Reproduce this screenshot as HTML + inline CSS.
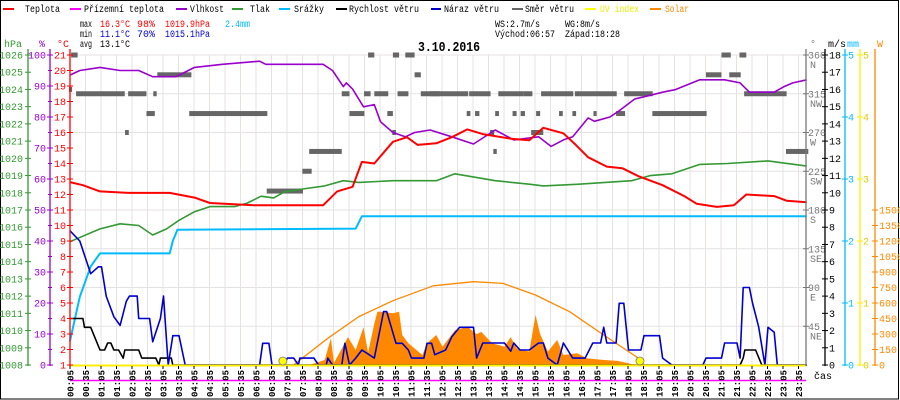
<!DOCTYPE html>
<html><head><meta charset="utf-8">
<style>
html,body{margin:0;padding:0;background:#fff;}
svg{display:block;}
text{font-family:"Liberation Mono","DejaVu Sans Mono",monospace;}
</style></head>
<body>
<svg id="chart" width="900" height="400" viewBox="0 0 900 400" xmlns="http://www.w3.org/2000/svg">
<rect x="0.5" y="0.5" width="898" height="398.5" fill="#fff" stroke="#000" stroke-width="1"/>
<g id="legend" font-size="10" lengthAdjust="spacingAndGlyphs">
 <g><rect x="3" y="8" width="11" height="2" fill="#f00"/><text x="25" y="12" textLength="35" lengthAdjust="spacingAndGlyphs">Teplota</text></g>
 <g><rect x="70" y="8" width="11" height="2" fill="#f0f"/><text x="84" y="12" textLength="80" lengthAdjust="spacingAndGlyphs">Přízemní teplota</text></g>
 <g><rect x="176" y="8" width="11" height="2" fill="#90c"/><text x="190" y="12" textLength="34" lengthAdjust="spacingAndGlyphs">Vlhkost</text></g>
 <g><rect x="232" y="8" width="11" height="2" fill="#393"/><text x="250" y="12" textLength="20" lengthAdjust="spacingAndGlyphs">Tlak</text></g>
 <g><rect x="279" y="8" width="11" height="2" fill="#0bf"/><text x="294" y="12" textLength="30" lengthAdjust="spacingAndGlyphs">Srážky</text></g>
 <g><rect x="336" y="8" width="11" height="2" fill="#000"/><text x="349" y="12" textLength="70" lengthAdjust="spacingAndGlyphs">Rychlost větru</text></g>
 <g><rect x="431" y="8" width="10" height="2" fill="#00c"/><text x="444" y="12" textLength="55" lengthAdjust="spacingAndGlyphs">Náraz větru</text></g>
 <g><rect x="512" y="8" width="11" height="2" fill="#666"/><text x="525" y="12" textLength="49" lengthAdjust="spacingAndGlyphs">Směr větru</text></g>
 <g><rect x="585" y="8" width="11" height="2" fill="#ff0"/><text x="600" y="12" fill="#ee0" textLength="39" lengthAdjust="spacingAndGlyphs">UV index</text></g>
 <g><rect x="650" y="8" width="11" height="2" fill="#f80"/><text x="665" y="12" fill="#f80" textLength="24" lengthAdjust="spacingAndGlyphs">Solar</text></g>
</g>
<g font-size="10">
 <text x="80" y="27" textLength="12" lengthAdjust="spacingAndGlyphs">max</text>
 <text x="100" y="27" fill="#f00" textLength="30" lengthAdjust="spacingAndGlyphs">16.3°C</text>
 <text x="137" y="27" fill="#f00" textLength="18" lengthAdjust="spacingAndGlyphs">98%</text>
 <text x="165" y="27" fill="#f00" textLength="45" lengthAdjust="spacingAndGlyphs">1019.9hPa</text>
 <text x="225" y="27" fill="#0bf" textLength="25" lengthAdjust="spacingAndGlyphs">2.4mm</text>
 <text x="80" y="37" textLength="12" lengthAdjust="spacingAndGlyphs">min</text>
 <text x="100" y="37" fill="#00c" textLength="30" lengthAdjust="spacingAndGlyphs">11.1°C</text>
 <text x="137" y="37" fill="#00c" textLength="18" lengthAdjust="spacingAndGlyphs">70%</text>
 <text x="165" y="37" fill="#00c" textLength="45" lengthAdjust="spacingAndGlyphs">1015.1hPa</text>
 <text x="80" y="47" textLength="12" lengthAdjust="spacingAndGlyphs">avg</text>
 <text x="100" y="47" textLength="30" lengthAdjust="spacingAndGlyphs">13.1°C</text>
 <text x="495" y="27" textLength="45" lengthAdjust="spacingAndGlyphs">WS:2.7m/s</text>
 <text x="565" y="27" textLength="35" lengthAdjust="spacingAndGlyphs">WG:8m/s</text>
 <text x="495" y="37" textLength="60" lengthAdjust="spacingAndGlyphs">Východ:06:57</text>
 <text x="565" y="37" textLength="55" lengthAdjust="spacingAndGlyphs">Západ:18:28</text>
</g>
<text x="418" y="51" font-size="14" font-weight="bold" textLength="62" lengthAdjust="spacingAndGlyphs">3.10.2016</text>
<g id="grid"></g>
<g id="series"></g>
<g id="axes"></g>
</svg>
<script>
// ---- data ----
const timeLabels = [];
for (let k = 0; k < 48; k++) { const m = 5 + 30 * k; timeLabels.push(String(Math.floor(m/60)).padStart(2,'0') + ':' + String(m%60).padStart(2,'0')); }
const tempT = [0.08,0.5,1.05,2,3.3,4.1,4.6,6,7,8.25,8.7,9.2,9.5,9.9,10.5,10.95,11.3,11.9,12.4,12.9,13.4,14.3,14.9,15.35,16,16.4,16.8,17.4,17.9,18.4,19.2,19.9,20.3,20.95,21.5,21.9,22.8,23.2,23.85];
const tempV = [12.8,12.6,12.2,12.1,12.1,11.8,11.45,11.3,11.3,11.3,12.2,12.5,14.1,14.0,15.4,15.7,15.2,15.3,15.7,16.2,15.9,15.6,15.5,16.3,15.95,15.2,14.4,13.8,13.7,13.2,12.6,11.9,11.4,11.2,11.3,12.0,11.9,11.6,11.5];
const humT = [0.08,0.4,1.05,1.7,2.3,2.75,3.5,3.7,4.1,5,6.2,6.4,8.25,8.55,8.9,9,9.2,9.55,9.9,10.1,10.5,10.9,11.2,11.7,12.4,13.1,13.8,14.4,15.2,15.6,16,16.3,16.8,17,17.5,17.8,18.3,18.8,19.2,19.6,20.1,20.4,21.2,21.7,22,22.8,23.1,23.4,23.85];
const humV = [93.5,95,96,95,95,93,93,94,96,97,98,97,97,95,89.8,91,89,83.3,84,78.5,75,73.6,75,75.8,73.6,71.3,75.8,72.6,73.6,70.5,72.6,73.6,79.7,78.6,80,82,85.8,87,88,88.8,90.8,92,92,91,88,88,89.7,91,92];
const presT = [0.08,1.05,1.7,2.3,2.75,3.2,3.6,4.1,4.6,5.4,5.8,6.25,6.65,7,7.7,8.3,8.9,9.4,10.5,11.9,12.5,13.8,14.9,15.35,16.5,18.2,18.8,19.5,20.4,21.3,22.6,23.85];
const presV = [1015.16,1015.9,1016.2,1016.1,1015.55,1015.9,1016.4,1016.9,1017.2,1017.2,1017.4,1017.8,1017.7,1018.05,1018.25,1018.4,1018.7,1018.6,1018.7,1018.7,1019.1,1018.7,1018.5,1018.4,1018.5,1018.7,1019.0,1019.1,1019.65,1019.7,1019.85,1019.55];
const rainT = [0.08,0.4,0.75,1.05,3.3,3.4,3.55,9.3,9.4,9.5,23.85];
const rainV = [0.38,1.1,1.59,1.8,1.8,2.0,2.18,2.2,2.3,2.4,2.4];
const gustT = [0.08,0.4,0.75,1.0,1.1,1.25,1.5,1.7,1.9,2.0,2.25,2.3,2.65,2.75,3.0,3.1,3.25,3.4,3.6,3.8,6.2,6.3,6.5,6.6,6.95,7.1,7.3,7.45,7.5,7.95,8.1,8.35,8.4,8.55,8.85,8.95,9.1,9.3,9.5,9.9,10.2,10.3,10.6,10.8,11.0,11.1,11.5,11.6,11.75,11.85,12.2,12.4,12.65,13.1,13.2,13.4,14.1,14.3,14.4,14.6,14.9,15.2,15.35,15.5,15.8,16.0,16.3,16.7,16.95,17.2,17.3,17.4,17.7,17.8,17.95,18.1,18.5,18.6,19.1,19.2,19.5,20.5,20.6,21.1,21.2,21.6,21.7,21.8,22.0,22.1,22.3,22.5,22.6,22.8,22.9,23.85];
const gustV = [7.8,7.2,5.3,5.7,5.7,4.0,2.8,2.3,3.7,4.0,4.0,2.7,2.7,1.35,2.7,4.0,0.0,1.7,1.7,0,0,1.26,1.26,0,0,0.4,0.4,0,0.4,0.4,0,0,0.4,0,0,1.26,0,0.4,0.87,0.4,3.1,3.1,1.26,1.26,0.87,0.4,0.4,1.26,1.26,0.6,0.87,1.64,2.19,2.19,0.4,1.28,1.28,0.8,1.28,0.87,0.87,1.28,1.28,0.4,0,1.28,0.4,0.4,1.28,1.28,2.19,1.28,1.28,3.58,3.58,0.87,0.87,1.7,1.7,0.4,0,0,0.4,0.4,1.28,1.28,0.4,4.5,4.5,3.6,2.2,0,2.19,1.9,0,0];
const speedT = [0.08,0.5,0.55,0.75,1.05,1.2,1.3,1.4,1.5,1.65,1.8,1.85,2.3,2.4,2.85,2.95,3.0,3.35,3.4,21.7,21.8,21.85,22.2,22.4,23.85];
const speedV = [2.7,2.7,2.19,2.19,0.87,0.87,1.28,1.28,0.87,0.87,0.4,0.87,0.87,0.4,0.4,0,0.4,0.4,0,0,0.4,0.87,0.87,0,0];
const solarT = [7.8,8.3,8.5,8.6,9.05,9.3,9.55,9.7,9.9,10.0,10.15,10.5,10.7,10.8,11.0,11.2,11.45,11.6,11.9,12.1,12.5,12.9,13.2,13.35,13.7,14.1,14.3,14.5,14.9,15.1,15.25,15.5,15.8,16.0,16.45,16.75,17.3,17.75,18.2,18.4];
const solarV = [0,48,258,20,270,145,365,120,400,516,516,500,516,290,210,160,97,210,290,177,335,370,300,320,210,177,270,160,130,484,300,130,242,97,113,65,48,40,10,0];
const solarMaxT = [7.3,7.5,8.4,9.4,10.5,11.8,13.1,14.05,15.1,16.2,17.3,18.35,18.6];
const solarMaxV = [0,48,258,468,622,766,806,790,677,516,290,80,0];
const dirStart = [0.05,0.12,9.7,10.5,10.9,21.1,21.68,2.9,11.2,20.6,21.35,0.28,1.96,2.77,8.85,9.57,9.9,10.65,11.4,11.7,12.96,13.9,14.7,15.28,16.37,17.96,21.83,2.55,3.93,9.1,10.32,12.88,13.15,13.8,14.36,14.62,15.12,15.86,16.29,16.97,17.7,18.87,1.86,10.48,13.63,14.96,7.8,13.74,23.18,7.58,6.43];
const dirEnd   = [0.15,0.33,9.9,10.7,11.2,21.4,21.9,4.0,11.4,21.1,21.72,1.85,2.55,2.88,9.1,9.78,10.35,11.0,12.0,12.93,13.65,14.7,15.0,16.32,17.72,18.88,23.2,2.82,6.45,9.58,10.5,13.0,13.29,13.92,14.49,14.76,15.25,15.98,16.41,17.07,17.99,20.62,1.98,10.6,13.77,15.35,8.85,13.85,23.9,7.88,7.6];
const dirDeg   = [320,360,360,360,360,360,360,337,337,337,337,315,315,315,315,315,315,315,315,315,315,315,315,315,315,315,315,292,292,292,292,292,292,292,292,292,292,292,292,292,292,292,270,270,270,270,248,248,248,225,202];
const sunEventsT = [6.95, 18.47];
const hpaTicks = [1008,1009,1010,1011,1012,1013,1014,1015,1016,1017,1018,1019,1020,1021,1022,1023,1024,1025,1026];
const humTicks = [0,10,20,30,40,50,60,70,80,90,100];
const tempTicks = [1,2,3,4,5,6,7,8,9,10,11,12,13,14,15,16,17,18,19,20,21];
const dirTicks = [45,90,135,180,225,270,315,360];
const dirNames = ['NE','E','SE','S','SW','W','NW','N'];
const windTicks = [0,1,2,3,4,5,6,7,8,9,10,11,12,13,14,15,16,17,18];
const mmTicks = [0,1,2,3,4,5];
const solarTicks = [0,150,300,450,600,750,900,1050,1200,1350,1500];

// ---- scales ----
const X = h => 67.4 + 31 * h;
const B = 365, SPAN = 310;
const yT = c => B - (c - 1) * SPAN / 20;
const yH = p => B - p * SPAN / 100;
const yP = v => B - (v - 1008) * SPAN / 18;
const yR = m => B - m * SPAN / 5;
const yW = w => B - w * SPAN / 18;
const yD = d => B - d * SPAN / 360;
const yS = w => B - w * 155 / 1500;

const NS = 'http://www.w3.org/2000/svg';
function mk(tag, attrs, parent) { const e = document.createElementNS(NS, tag); for (const k in attrs) e.setAttribute(k, attrs[k]); parent.appendChild(e); return e; }
const grid = document.getElementById('grid'), series = document.getElementById('series'), axes = document.getElementById('axes');

for (let k = 0; k < 48; k++) {
  const gx = 70 + 15.5 * k;
  const l = mk('line', {x1: gx, y1: 55, x2: gx, y2: B, stroke: '#e6e2e2', 'stroke-width': 1}, grid);
  
  
}
dirTicks.forEach(d => {
  const l = mk('line', {x1: 70, y1: yD(d), x2: 806, y2: yD(d), stroke: '#e6e2e2', 'stroke-width': 1}, grid);
  
  
});

function poly(ts, vs, yf, color, w, name) {
  const pts = ts.map((t, i) => X(t).toFixed(1) + ',' + yf(vs[i]).toFixed(1)).join(' ');
  const p = mk('polyline', {points: pts, fill: 'none', stroke: color, 'stroke-width': w, 'stroke-linejoin': 'round'}, series);
  
  
  return p;
}

{
  const pts = solarT.map((t, i) => X(t).toFixed(1) + ',' + yS(solarV[i]).toFixed(1));
  pts.unshift(X(solarT[0]).toFixed(1) + ',' + B);
  pts.push(X(solarT[solarT.length - 1]).toFixed(1) + ',' + B);
  const a = mk('polygon', {points: pts.join(' '), fill: '#ff8800'}, series);
  
  
}
poly(solarMaxT, solarMaxV, yS, '#ff8800', 1.3, 'solar-theoretical-line');

dirDeg.forEach((d, i) => {
  const r = mk('rect', {x: X(dirStart[i]), y: yD(d) - 2.5, width: Math.max(3, X(dirEnd[i]) - X(dirStart[i])), height: 5, fill: '#666'}, series);
  
  
});

poly(presT, presV, yP, '#339933', 1.6, 'pressure-line');
poly(rainT, rainV, yR, '#00bbff', 2, 'rain-line');
poly(humT, humV, yH, '#9900cc', 1.6, 'humidity-line');
poly(tempT, tempV, yT, '#ff0000', 2, 'temperature-line');
poly(speedT, speedV, yW, '#000', 1.6, 'wind-speed-line');
poly(gustT, gustV, yW, '#0000cc', 1.6, 'wind-gust-line');

{
  const u = mk('line', {x1: 70, y1: B + 0.5, x2: 806, y2: B + 0.5, stroke: '#ffee00', 'stroke-width': 2}, series);
  
  
  const g = mk('line', {x1: 70, y1: 380.5, x2: 806, y2: 380.5, stroke: '#ff00ff', 'stroke-width': 1.5}, series);
  
  
}
sunEventsT.forEach(t => {
  const c = mk('circle', {cx: X(t), cy: 361, r: 4, fill: '#ffff00', stroke: '#777', 'stroke-width': 0.8}, series);
  
  
});

function vaxis(x, color, name) {
  const l = mk('line', {x1: x, y1: 49, x2: x, y2: B + 1, stroke: color, 'stroke-width': 1.3}, axes);
  
  
}
function lab(x, y, s, color, anchor, name) {
  const t = mk('text', {x: x, y: y, fill: color, 'font-size': 10, 'text-anchor': anchor}, axes);
  t.textContent = s;
  
  
}
function tick(x1, x2, y, color) { mk('line', {x1: x1, y1: y, x2: x2, y2: y, stroke: color, 'stroke-width': 1}, axes); }

vaxis(28, '#339933', 'pressure-axis');
hpaTicks.forEach(v => { tick(25, 31, yP(v), '#339933'); lab(23, yP(v) + 3.5, String(v), '#339933', 'end', 'pressure-tick-label'); });
lab(4, 47, 'hPa', '#339933', 'start', 'pressure-axis-title');
vaxis(50, '#9900cc', 'humidity-axis');
humTicks.forEach(v => { tick(47, 53, yH(v), '#9900cc'); lab(46, yH(v) + 3.5, String(v), '#9900cc', 'end', 'humidity-tick-label'); });
humTicks.slice(0, -1).forEach(v => tick(48, 52, yH(v + 5), '#9900cc'));
lab(42, 47, '%', '#9900cc', 'middle', 'humidity-axis-title');
vaxis(70, '#ff0000', 'temperature-axis');
tempTicks.forEach(v => { tick(67, 73, yT(v), '#ff0000'); lab(66, yT(v) + 3.5, String(v), '#ff0000', 'end', 'temperature-tick-label'); });
lab(57, 47, '°C', '#ff0000', 'start', 'temperature-axis-title');

vaxis(806, '#777', 'wind-direction-axis');
dirTicks.forEach((d, i) => { tick(803, 809, yD(d), '#777'); lab(808, yD(d) + 3.5, String(d), '#777', 'start', 'direction-tick-label'); lab(810, yD(d) + 13, dirNames[i], '#777', 'start', 'direction-name-label'); });
lab(810, 47, '°', '#777', 'start', 'direction-axis-title');
vaxis(825, '#000', 'wind-speed-axis');
windTicks.forEach(v => { tick(822, 828, yW(v), '#000'); lab(829, yW(v) + 3.5, String(v), '#000', 'start', 'wind-tick-label'); });
lab(828, 47, 'm/s', '#000', 'start', 'wind-axis-title');
vaxis(845, '#00bbff', 'rain-axis');
mmTicks.forEach(v => { tick(842, 848, yR(v), '#00bbff'); lab(848, yR(v) + 3.5, String(v), '#00bbff', 'start', 'rain-tick-label'); });
lab(847, 47, 'mm', '#00bbff', 'start', 'rain-axis-title');
vaxis(860, '#ffee00', 'uv-axis');
mmTicks.forEach(v => { tick(857, 863, yR(v), '#ffee00'); lab(863, yR(v) + 3.5, String(v), '#ddcc00', 'start', 'uv-tick-label'); });
vaxis(875, '#ff8800', 'solar-axis');
solarTicks.forEach(v => { tick(872, 878, yS(v), '#ff8800'); lab(879, yS(v) + 3.5, String(v), '#ff8800', 'start', 'solar-tick-label'); });
lab(877, 47, 'W', '#ff8800', 'start', 'solar-axis-title');

timeLabels.forEach((s, k) => {
  const gx = 70 + 15.5 * k;
  mk('line', {x1: gx, y1: B + 1, x2: gx, y2: B + 4, stroke: '#000', 'stroke-width': 1}, axes);
  const t = mk('text', {x: 0, y: 0, 'font-size': 9, 'font-weight': 'bold', 'text-anchor': 'end', transform: `translate(${gx + 3.5},370) rotate(-90)`}, axes);
  t.textContent = s;
  
  
});
lab(814, 379, 'čas', '#000', 'start', 'time-axis-title');
</script>
</body></html>
